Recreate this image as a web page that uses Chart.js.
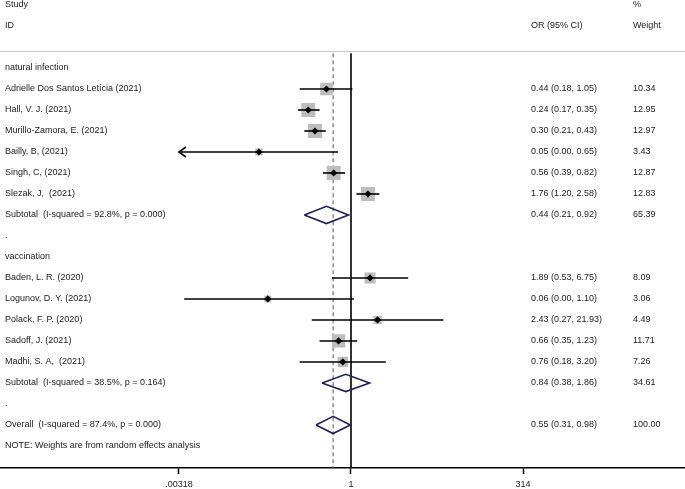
<!DOCTYPE html>
<html>
<head>
<meta charset="utf-8">
<script src="https://cdn.jsdelivr.net/npm/chart.js@4/dist/chart.umd.min.js"></script>
<style>
  body { margin: 0; background: #fff; }
</style>
</head>
<body>
<canvas id="forest" width="685" height="489"></canvas>
<script>
// study rows
var studies = ['Adrielle Dos Santos Letícia (2021)', 'Hall, V. J. (2021)', 'Murillo-Zamora, E. (2021)',
  'Bailly, B, (2021)', 'Singh, C, (2021)', 'Slezak, J,  (2021)',
  'Baden, L. R. (2020)', 'Logunov, D. Y. (2021)', 'Polack, F. P. (2020)', 'Sadoff, J. (2021)', 'Madhi, S. A,  (2021)'];
var studyRows = [4, 5, 6, 7, 8, 9, 13, 14, 15, 16, 17];
var oddsRatio = [0.44, 0.24, 0.30, 0.046, 0.56, 1.76, 1.89, 0.062, 2.43, 0.66, 0.76];
var ciLow = [0.18, 0.17, 0.21, 0.0005, 0.39, 1.20, 0.53, 0.0038, 0.27, 0.35, 0.18];
var ciHigh = [1.05, 0.35, 0.43, 0.65, 0.82, 2.58, 6.75, 1.10, 21.93, 1.23, 3.20];
var weights = [10.34, 12.95, 12.97, 3.43, 12.87, 12.83, 8.09, 3.06, 4.49, 11.71, 7.26];

// pooled rows
var pooledLabels = ['Subtotal  (I-squared = 92.8%, p = 0.000)', 'Subtotal  (I-squared = 38.5%, p = 0.164)', 'Overall  (I-squared = 87.4%, p = 0.000)'];
var pooledRows = [10, 18, 20];
var pooledOR = [0.44, 0.84, 0.55];
var pooledLow = [0.21, 0.38, 0.31];
var pooledHigh = [0.92, 1.86, 0.98];
var pooledWeights = [65.39, 34.61, 100.00];

// other text rows
var groupLabels = ['natural infection', '.', 'vaccination', '.', 'NOTE: Weights are from random effects analysis'];
var groupRows = [3, 11, 12, 19, 21];

var tickValues = [0.00318, 1, 314];
var tickLabels = ['.00318', '1', '314'];

var overallOR = pooledOR[2];
var axisMin = tickValues[0];

Chart.defaults.font.family = "'Liberation Sans', Arial, sans-serif";
Chart.defaults.font.size = 9;
Chart.defaults.color = '#1a1a1a';

var datasets = [];

// centre markers
datasets.push({
  type: 'scatter',
  data: studies.map(function (s, i) { return { x: oddsRatio[i], y: studyRows[i] }; }),
  pointStyle: 'rectRot',
  pointRadius: 3.6,
  backgroundColor: '#000',
  borderWidth: 0,
  order: 1
});

// CI lines
studies.forEach(function (s, i) {
  datasets.push({
    type: 'line',
    data: [{ x: Math.max(ciLow[i], axisMin), y: studyRows[i] }, { x: ciHigh[i], y: studyRows[i] }],
    borderColor: '#000',
    borderWidth: 1.6,
    pointRadius: 0,
    order: 2
  });
});

// weight boxes
datasets.push({
  type: 'scatter',
  data: studies.map(function (s, i) { return { x: oddsRatio[i], y: studyRows[i] }; }),
  pointStyle: 'rect',
  pointRadius: weights.map(function (w) { return 2.75 * Math.sqrt(w); }),
  backgroundColor: '#bdbdbd',
  borderWidth: 0,
  order: 3
});

// pooled diamonds
var halfH = 0.41;
pooledRows.forEach(function (r, i) {
  datasets.push({
    type: 'line',
    data: [
      { x: pooledLow[i], y: r }, { x: pooledOR[i], y: r - halfH },
      { x: pooledHigh[i], y: r }, { x: pooledOR[i], y: r + halfH },
      { x: pooledLow[i], y: r }
    ],
    borderColor: '#1f1f5e',
    borderWidth: 1.6,
    pointRadius: 0,
    fill: false,
    order: 1
  });
});

// null line and overall line
datasets.push({
  type: 'line',
  data: [{ x: 1, y: 2.3 }, { x: 1, y: 22.1 }],
  borderColor: '#000',
  borderWidth: 1.6,
  pointRadius: 0,
  order: 4
});
datasets.push({
  type: 'line',
  data: [{ x: overallOR, y: 2.3 }, { x: overallOR, y: 22.1 }],
  borderColor: '#555',
  borderWidth: 1,
  borderDash: [4, 3],
  pointRadius: 0,
  order: 4
});

var fmt = function (v) { return v.toFixed(2); };

var textPlugin = {
  id: 'forestText',
  afterDatasetsDraw: function (chart) {
    var ctx = chart.ctx;
    var xs = chart.scales.x, ys = chart.scales.y;
    ctx.save();
    // arrows for truncated CIs
    ctx.strokeStyle = '#000';
    ctx.lineWidth = 1.6;
    studies.forEach(function (s, i) {
      if (ciLow[i] < axisMin) {
        var px = xs.getPixelForValue(axisMin), py = ys.getPixelForValue(studyRows[i]);
        ctx.beginPath();
        ctx.moveTo(px + 7, py - 5);
        ctx.lineTo(px, py);
        ctx.lineTo(px + 7, py + 5);
        ctx.stroke();
      }
    });
    // header rule
    ctx.strokeStyle = '#c4c4c4';
    ctx.lineWidth = 1;
    var ly = Math.round(ys.getPixelForValue(2.2)) + 0.5;
    ctx.beginPath();
    ctx.moveTo(0, ly);
    ctx.lineTo(chart.width, ly);
    ctx.stroke();

    ctx.fillStyle = '#1a1a1a';
    ctx.font = "9px 'Liberation Sans', Arial, sans-serif";
    ctx.textBaseline = 'middle';
    var colL = 5, colOR = 531, colW = 633;
    var put = function (t, x, r) { ctx.fillText(t, x, ys.getPixelForValue(r)); };
    put('Study', colL, 0);
    put('ID', colL, 1);
    put('%', colW, 0);
    put('Weight', colW, 1);
    put('OR (95% CI)', colOR, 1);
    groupLabels.forEach(function (t, i) { put(t, colL, groupRows[i]); });
    studies.forEach(function (s, i) {
      put(s, colL, studyRows[i]);
      put(fmt(oddsRatio[i]) + ' (' + fmt(ciLow[i]) + ', ' + fmt(ciHigh[i]) + ')', colOR, studyRows[i]);
      put(fmt(weights[i]), colW, studyRows[i]);
    });
    pooledLabels.forEach(function (s, i) {
      put(s, colL, pooledRows[i]);
      put(fmt(pooledOR[i]) + ' (' + fmt(pooledLow[i]) + ', ' + fmt(pooledHigh[i]) + ')', colOR, pooledRows[i]);
      put(fmt(pooledWeights[i]), colW, pooledRows[i]);
    });
    ctx.restore();
  }
};

new Chart(document.getElementById('forest').getContext('2d'), {
  type: 'scatter',
  data: { datasets: datasets },
  options: {
    responsive: false,
    animation: false,
    layout: { padding: 0, autoPadding: false },
    plugins: { legend: { display: false }, tooltip: { enabled: false } },
    scales: {
      x: {
        type: 'logarithmic',
        min: Math.pow(10, -5.0943),
        max: Math.pow(10, 4.8476),
        bounds: 'data',
        afterBuildTicks: function (scale) {
          scale.ticks = tickValues.map(function (v) { return { value: v }; });
        },
        afterFit: function (scale) { scale.height = 21; },
        ticks: {
          autoSkip: false,
          maxRotation: 0,
          padding: 5,
          color: '#1a1a1a',
          callback: function (v) {
            var k = tickValues.indexOf(v);
            return k >= 0 ? tickLabels[k] : '';
          }
        },
        grid: { drawOnChartArea: false, drawTicks: true, tickLength: 6, tickColor: '#000', tickWidth: 1.5 },
        border: { display: true, color: '#000', width: 1.5 }
      },
      y: {
        type: 'linear',
        display: false,
        reverse: true,
        min: -0.238,
        max: 22.05
      }
    }
  },
  plugins: [textPlugin]
});
</script>
</body>
</html>
